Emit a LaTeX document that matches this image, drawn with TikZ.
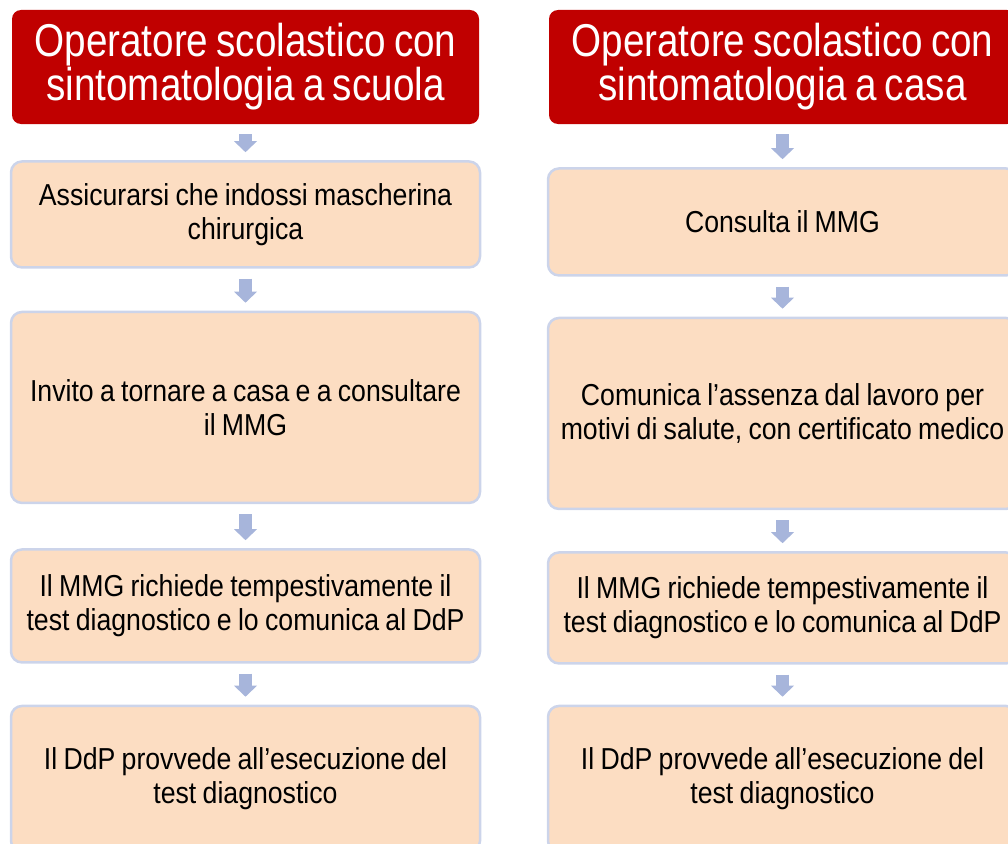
\documentclass[tikz,border=0pt]{standalone}
\usepackage{fontspec}
\setmainfont{Liberation Sans}
\newfontfamily\headfont[FakeStretch=0.84, WordSpace=0.75]{Liberation Sans}
\newfontfamily\boxfont[FakeStretch=0.88, WordSpace=0.85]{Liberation Sans}
\usetikzlibrary{positioning}
\usetikzlibrary{arrows.meta}
\definecolor{hd-red}{HTML}{C00000}
\definecolor{bx-fill}{HTML}{FCDDC2}
\definecolor{bx-line}{HTML}{CCD4EA}
\definecolor{ar-blue}{HTML}{A7B5DB}

\begin{document}
\begin{tikzpicture}[
    x=1pt, y=1pt,
    node distance=40pt,
    >=Triangle
  ]

  % Style definitions
  \tikzset{
    header/.style={fill=hd-red, rounded corners=9pt, minimum width=467pt, minimum height=114pt, inner sep=0pt, text=white, align=center, font=\headfont\fontsize{46}{44}\selectfont},
    stepbox/.style={draw=bx-line, line width=2.5pt, fill=bx-fill, rounded corners=11pt, minimum width=469pt, text width=466pt, inner sep=0pt, text=black, align=flush center, font=\boxfont\fontsize{30.3}{34}\selectfont},
    flow/.style={ar-blue, line width=13pt, -{Triangle[width=23pt, length=11pt, line width=0pt]}, shorten <=10pt, shorten >=8pt}
  }

  \useasboundingbox (0,0) rectangle (1008,-843);

  % Left column: at school
  \node (head_scuola) [header] at (245.5,-67) {Operatore scolastico con\\sintomatologia a scuola};
  \node (mask)    [stepbox, minimum height=106pt, below=36pt of head_scuola] {Assicurarsi che indossi mascherina\\chirurgica};
  \node (home)    [stepbox, minimum height=191pt, below=42pt of mask] {Invito a tornare a casa e a consultare\\il MMG};
  \node (test_l)  [stepbox, minimum height=113pt, below=44pt of home] {Il MMG richiede tempestivamente il\\test diagnostico e lo comunica al DdP};
  \node (exec_l)  [stepbox, minimum height=146pt, below=41pt of test_l] {Il DdP provvede all’esecuzione del\\test diagnostico};

  % Right column: at home
  \node (head_casa) [header] at (782.5,-67) {Operatore scolastico con\\sintomatologia a casa};
  \node (mmg)     [stepbox, minimum height=107pt, below=43pt of head_casa] {Consulta il MMG};
  \node (absence) [stepbox, minimum height=191pt, below=40pt of mmg] {Comunica l’assenza dal lavoro per\\motivi di salute, con certificato medico};
  \node (test_r)  [stepbox, minimum height=111pt, below=41pt of absence] {Il MMG richiede tempestivamente il\\test diagnostico e lo comunica al DdP};
  \node (exec_r)  [stepbox, minimum height=146pt, below=40pt of test_r] {Il DdP provvede all’esecuzione del\\test diagnostico};

  % Flow arrows
  \draw[flow] (head_scuola) -- (mask);
  \draw[flow] (mask) -- (home);
  \draw[flow] (home) -- (test_l);
  \draw[flow] (test_l) -- (exec_l);

  \draw[flow] (head_casa) -- (mmg);
  \draw[flow] (mmg) -- (absence);
  \draw[flow] (absence) -- (test_r);
  \draw[flow] (test_r) -- (exec_r);

\end{tikzpicture}
\end{document}
